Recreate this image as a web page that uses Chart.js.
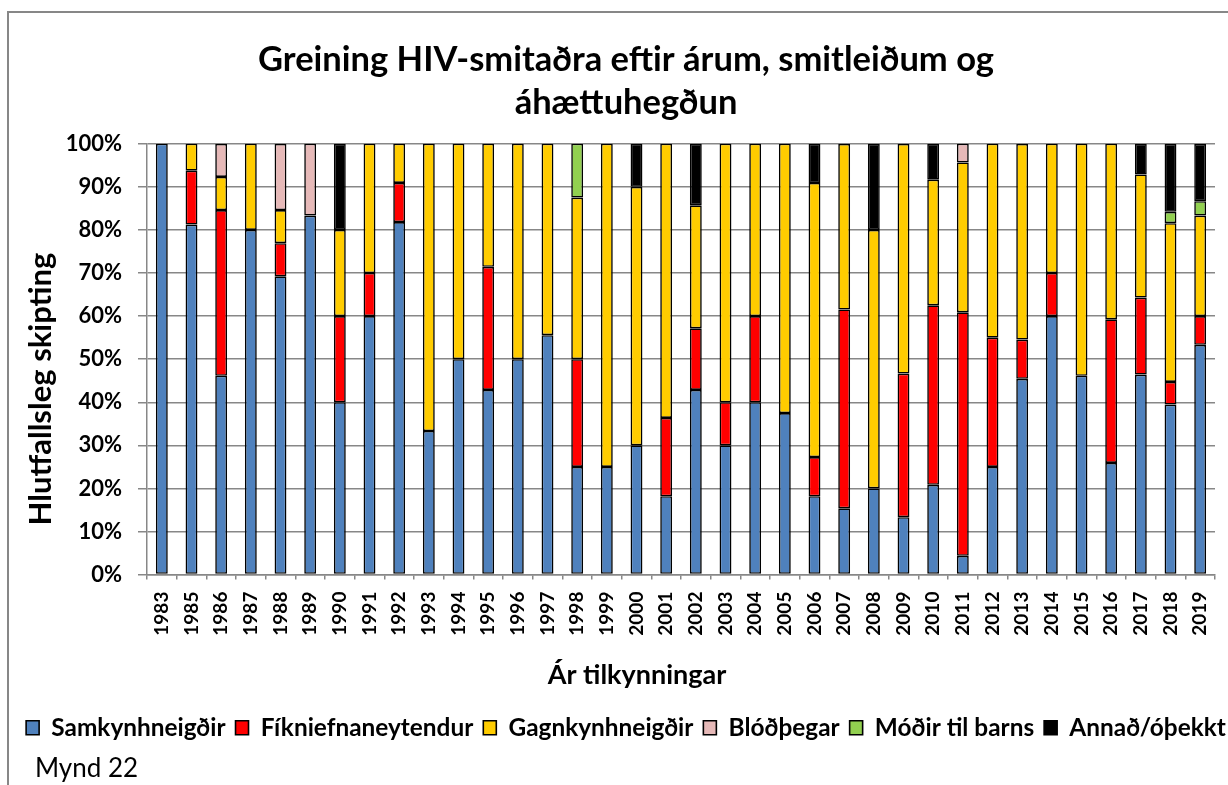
<!DOCTYPE html>
<html>
<head>
<meta charset="utf-8">
<script src="https://cdn.jsdelivr.net/npm/chart.js@4.4.1/dist/chart.umd.min.js"></script>
<style>
  html, body { margin: 0; padding: 0; background: #fff; overflow: hidden; width: 1228px; height: 785px; }
  #frame { position: absolute; left: 7px; top: 11px; width: 1300px; height: 800px;
           border-left: 2px solid #878787; border-top: 2px solid #878787; }
  #wrap { position: absolute; left: 9px; top: 13px; width: 1234px; height: 772px; }
  #caption { position: absolute; left: 35px; top: 750px; font-family: Lato, sans-serif; font-size: 26px; color: #000; line-height: 34px; }
</style>
</head>
<body>
<div id="frame"></div>
<div id="wrap"><canvas id="c" width="1234" height="772"></canvas></div>
<div id="caption">Mynd 22</div>
<script>
const years = ['1983','1985','1986','1987','1988','1989','1990','1991','1992','1993','1994','1995','1996','1997','1998','1999','2000','2001','2002','2003','2004','2005','2006','2007','2008','2009','2010','2011','2012','2013','2014','2015','2016','2017','2018','2019'];

const samkynhneigdir   = [100,81.25,46.15,80,69.23,83.33,40,60,81.82,33.33,50,42.86,50,55.56,25,25,30,18.18,42.86,30,40,37.5,18.18,15.38,20,13.33,20.83,4.35,25,45.45,60,46.15,25.93,46.43,39.47,53.33];
const fikniefnaneyt    = [0,12.5,38.46,0,7.69,0,20,10,9.09,0,0,28.57,0,0,25,0,0,18.18,14.29,10,20,0,9.09,46.15,0,33.33,41.67,56.52,30,9.09,10,0,33.33,17.86,5.26,6.67];
const gagnkynhneigdir  = [0,6.25,7.69,20,7.69,0,20,30,9.09,66.67,50,28.57,50,44.44,37.5,75,60,63.64,28.57,60,40,62.5,63.64,38.46,60,53.33,29.17,34.78,45,45.45,30,53.85,40.74,28.57,36.84,23.33];
const blodthegar       = [0,0,7.69,0,15.38,16.67,0,0,0,0,0,0,0,0,0,0,0,0,0,0,0,0,0,0,0,0,0,4.35,0,0,0,0,0,0,0,0];
const modirTilBarns    = [0,0,0,0,0,0,0,0,0,0,0,0,0,0,12.5,0,0,0,0,0,0,0,0,0,0,0,0,0,0,0,0,0,0,0,2.63,3.33];
const annadOthekkt     = [0,0,0,0,0,0,20,0,0,0,0,0,0,0,0,0,10,0,14.29,0,0,0,9.09,0,20,0,8.33,0,0,0,0,0,0,7.14,15.79,13.33];

const seriesNames = ['Samkynhneigðir','Fíkniefnaneytendur','Gagnkynhneigðir','Blóðþegar','Móðir til barns','Annað/óþekkt'];
const seriesColors = ['#4F81BD','#FF0000','#FFCC00','#E6B9B8','#92D050','#000000'];
const seriesData = [samkynhneigdir, fikniefnaneyt, gagnkynhneigdir, blodthegar, modirTilBarns, annadOthekkt];

const titleLines = ['Greining HIV-smitaðra eftir árum, smitleiðum og', 'áhættuhegðun'];
const yTitle = 'Hlutfallsleg skipting';
const xTitle = 'Ár tilkynningar';

Chart.defaults.font.family = 'Lato, sans-serif';
Chart.defaults.color = '#000';

const axisTitles = {
  id: 'axisTitles',
  afterDraw(chart) {
    const ctx = chart.ctx;
    ctx.save();
    ctx.fillStyle = '#000';
    ctx.font = 'bold 31px Lato, sans-serif';
    ctx.textAlign = 'center';
    ctx.textBaseline = 'middle';
    ctx.translate(32, 376);
    ctx.rotate(-Math.PI / 2);
    ctx.fillText(yTitle, 0, 0);
    ctx.restore();
    ctx.save();
    ctx.fillStyle = '#000';
    ctx.font = 'bold 27px Lato, sans-serif';
    ctx.textAlign = 'center';
    ctx.textBaseline = 'middle';
    ctx.fillText(xTitle, 628, 662);
    ctx.restore();
  }
};

new Chart(document.getElementById('c'), {
  type: 'bar',
  data: {
    labels: years,
    datasets: seriesData.map((arr, i) => ({
      label: seriesNames[i],
      data: arr.map(v => v === 0 ? null : v),
      backgroundColor: seriesColors[i],
      borderColor: '#000',
      borderWidth: 1.6,
      borderSkipped: false,
      barPercentage: 0.4,
      categoryPercentage: 1.0
    }))
  },
  options: {
    responsive: false,
    animation: false,
    layout: { padding: { left: 0, right: 0, top: 0, bottom: 35 } },
    plugins: {
      title: {
        display: true,
        text: titleLines,
        font: { size: 34.5, weight: 'bold', lineHeight: 1.25 },
        color: '#000',
        padding: { top: 25.5, bottom: 19 }
      },
      legend: {
        position: 'bottom',
        labels: {
          boxWidth: 13,
          boxHeight: 14,
          padding: 10,
          font: { size: 24.4, weight: 'bold' },
          color: '#000'
        }
      },
      tooltip: { enabled: false }
    },
    scales: {
      x: {
        stacked: true,
        grid: { display: true, drawOnChartArea: false, drawTicks: true, tickLength: 5, color: '#878787', lineWidth: 1.5, offset: true },
        border: { color: '#878787', width: 1.5 },
        ticks: { maxRotation: 90, minRotation: 90, autoSkip: false, padding: 12, font: { size: 19, weight: 'bold' }, color: '#000' },
        afterFit(scale) { scale.height = 131; }
      },
      y: {
        stacked: true,
        min: 0,
        max: 100,
        grid: { color: '#878787', lineWidth: 1.5, tickLength: 9 },
        border: { color: '#878787', width: 1.5 },
        ticks: { stepSize: 10, padding: 16, font: { size: 22, weight: 'bold' }, color: '#000', callback: v => v + '%' },
        afterFit(scale) { scale.width = 138; }
      },
      spacer: {
        position: 'right',
        display: true,
        grid: { display: false, drawTicks: false },
        border: { display: false },
        ticks: { display: false },
        afterFit(scale) { scale.width = 28; }
      }
    }
  },
  plugins: [axisTitles]
});
</script>
</body>
</html>
